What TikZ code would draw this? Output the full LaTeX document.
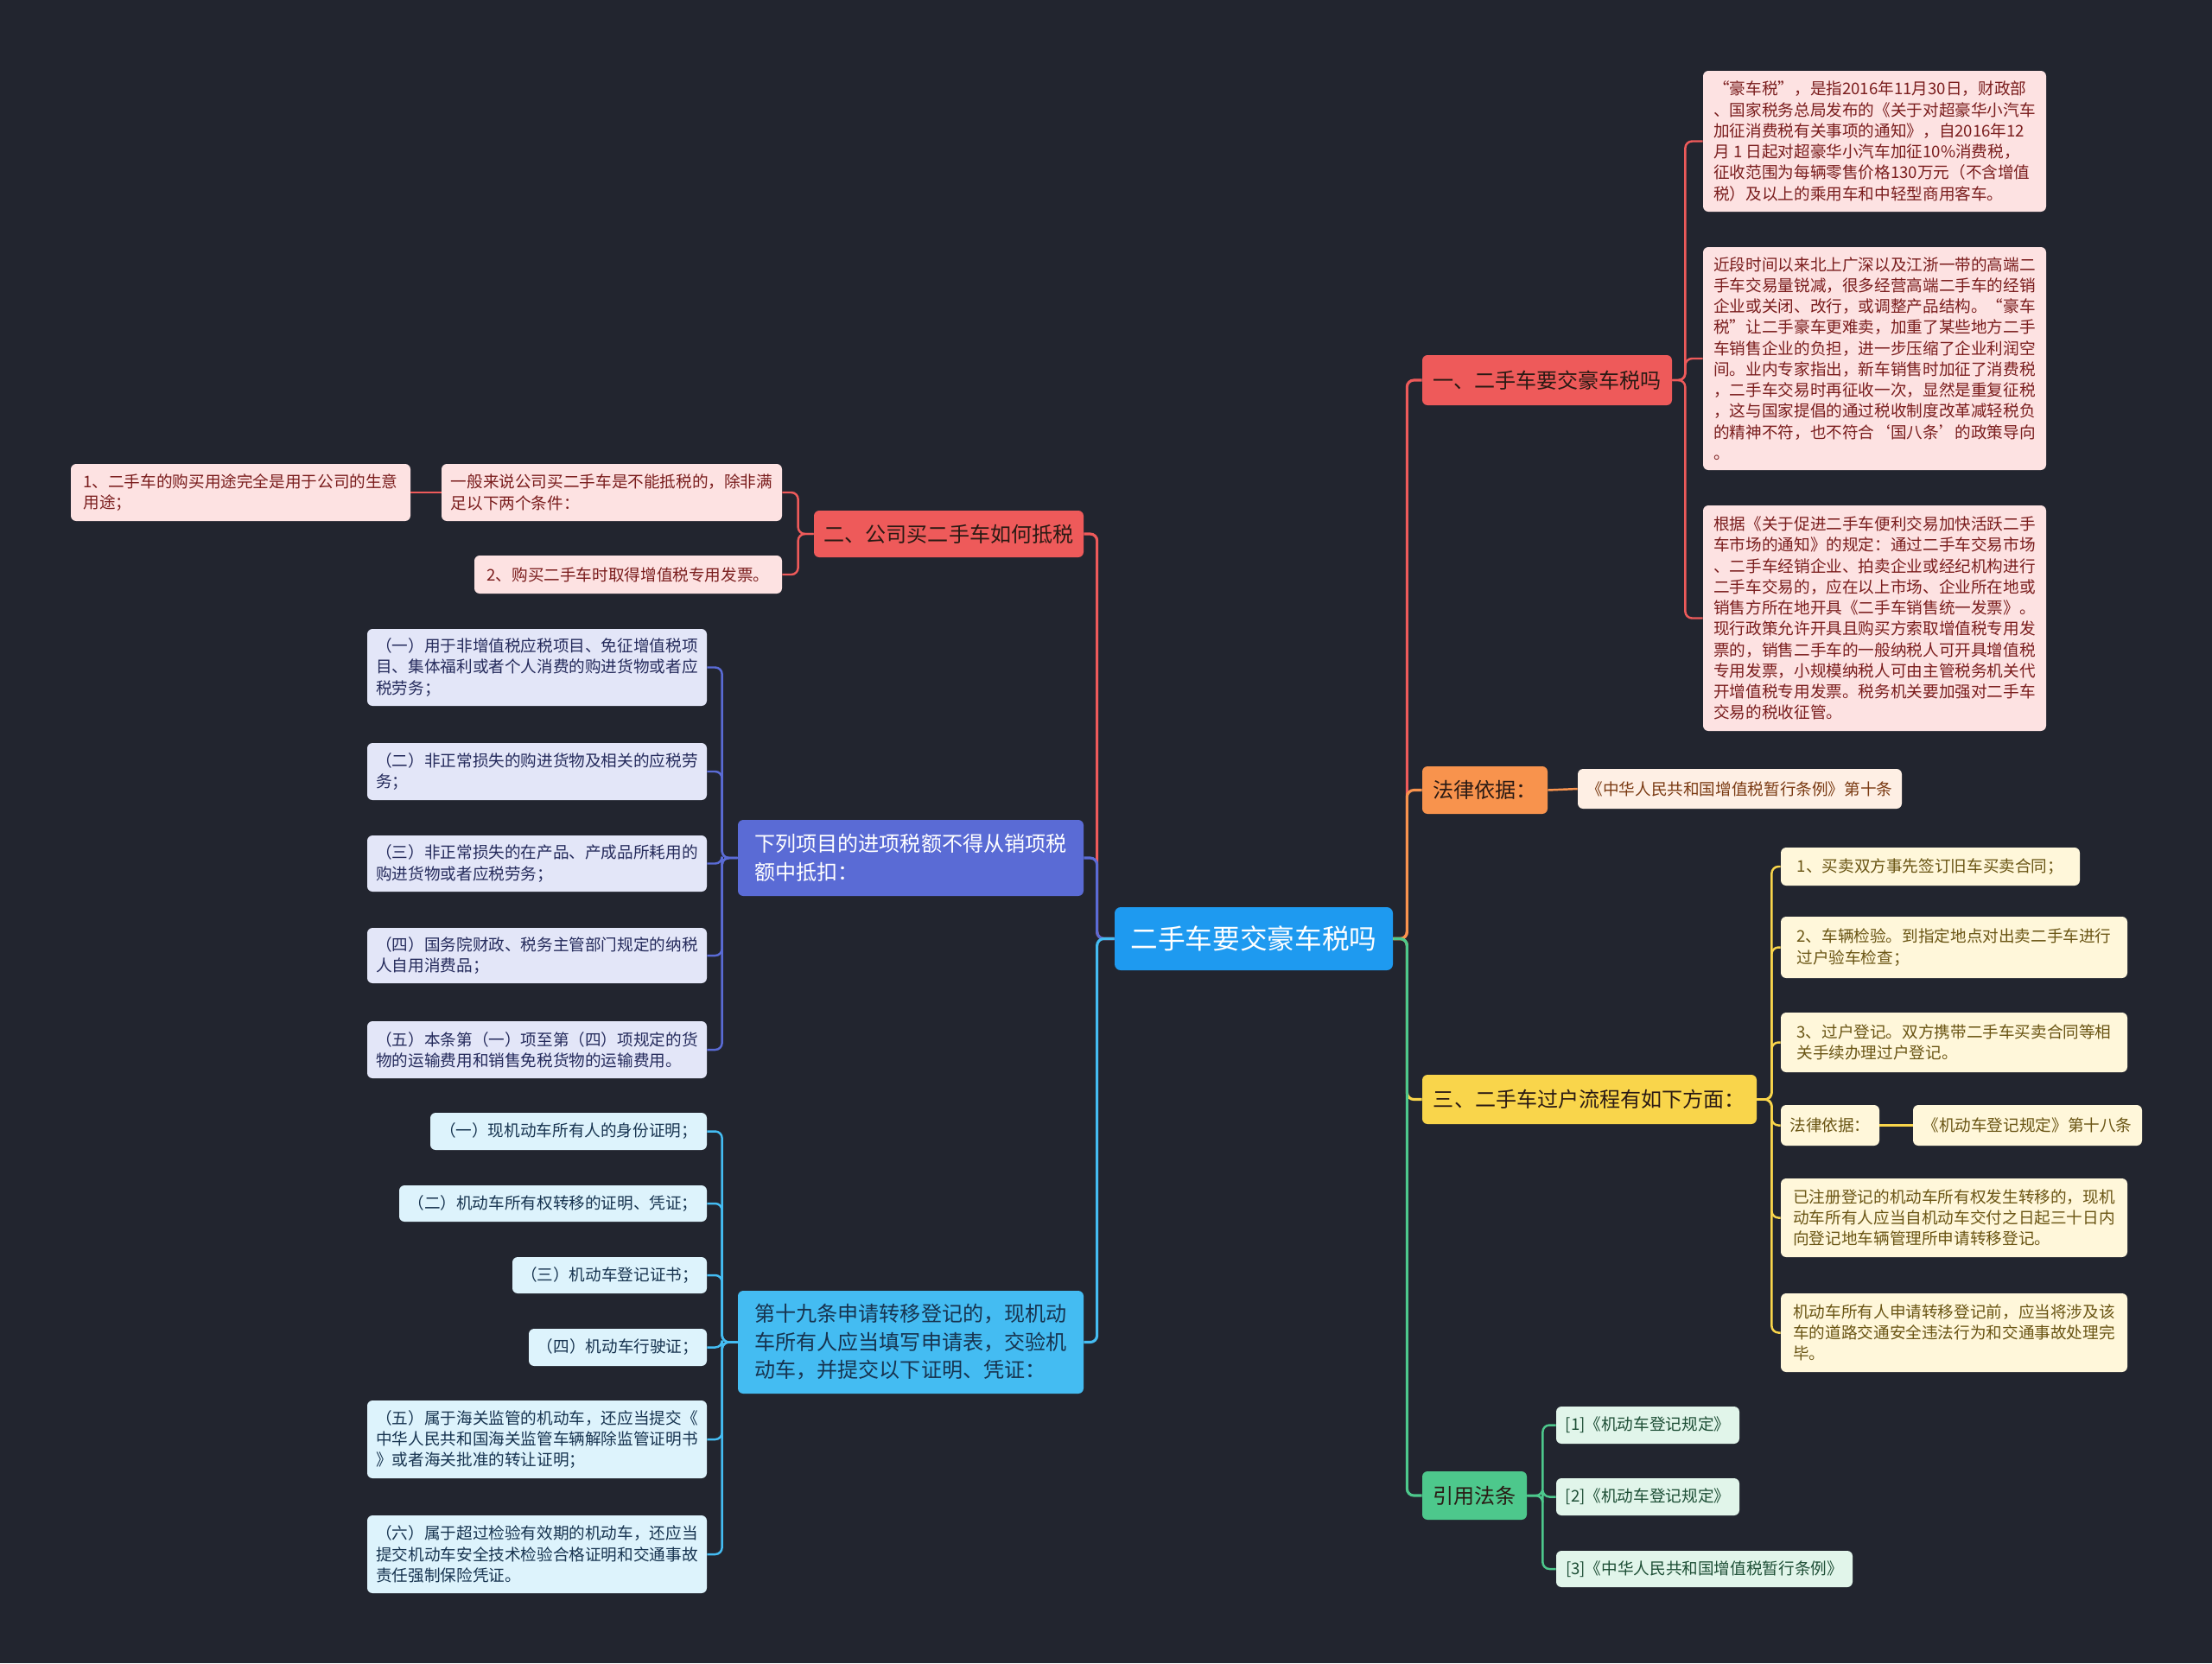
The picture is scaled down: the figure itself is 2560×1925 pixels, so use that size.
\documentclass[tikz,border=0pt]{standalone}
\usepackage{fontspec}
\newfontfamily\cjk{Noto Sans CJK SC}
\usepackage{xcolor}
\definecolor{bgnavy}{HTML}{22252F}
\definecolor{rootblue}{HTML}{1E9AF0}
\definecolor{lnred}{HTML}{EE5A5A}
\definecolor{leafred}{HTML}{FDE2E2}
\definecolor{inkred}{HTML}{7A1D1D}
\definecolor{lnorange}{HTML}{F8934D}
\definecolor{leaforange}{HTML}{FEEFE4}
\definecolor{inkorange}{HTML}{7A3A12}
\definecolor{lnyellow}{HTML}{F9D54B}
\definecolor{leafyellow}{HTML}{FFF7DA}
\definecolor{inkyellow}{HTML}{6A5514}
\definecolor{lngreen}{HTML}{4DC88C}
\definecolor{leafgreen}{HTML}{E1F5EA}
\definecolor{inkgreen}{HTML}{1D4E35}
\definecolor{lnpurple}{HTML}{5A6BD5}
\definecolor{leafpurple}{HTML}{E3E6F8}
\definecolor{inkpurple}{HTML}{252B5C}
\definecolor{lncyan}{HTML}{44BCF2}
\definecolor{leafcyan}{HTML}{DDF3FC}
\definecolor{inkcyan}{HTML}{173450}
\definecolor{inkdark}{HTML}{2A1A14}

\begin{document}
\begin{tikzpicture}[x=0.02cm, y=-0.02cm,
                    every node/.style={font=\cjk, align=left, inner sep=0pt},
                    sz/.style 2 args={minimum width=#1*0.02cm, minimum height=#2*0.02cm},
                    rootbox/.style={fill=rootblue, text=white, rounded corners=4pt,
                                    font=\cjk\fontsize{18}{22}\selectfont},
                    branchbox/.style={rounded corners=3.5pt, font=\cjk\fontsize{13.7}{18.5}\selectfont},
                    leafbox/.style={rounded corners=3.5pt, font=\cjk\fontsize{10.6}{13.8}\selectfont},
                    redleaf/.style={leafbox, fill=leafred, text=inkred},
                    orangeleaf/.style={leafbox, fill=leaforange, text=inkorange},
                    yellowleaf/.style={leafbox, fill=leafyellow, text=inkyellow},
                    greenleaf/.style={leafbox, fill=leafgreen, text=inkgreen},
                    purpleleaf/.style={leafbox, fill=leafpurple, text=inkpurple},
                    cyanleaf/.style={leafbox, fill=leafcyan, text=inkcyan},
                    trunk/.style={line width=1.8pt, rounded corners=4.5pt},
                    twig/.style={line width=1.4pt, rounded corners=4.5pt}]

  %% 背景与画幅
  \fill[bgnavy] (0,0) rectangle (2560,1925);
  \useasboundingbox (0,0) rectangle (2560,1925);

  %% 中心主题
  \node[rootbox, sz={322}{73}] (root) at (1451,1086.5) {二手车要交豪车税吗};

  %% 右侧：一、豪车税
  \node[branchbox, fill=lnred, text=inkdark, sz={289}{58}] (rb1) at (1790.5,440) {一、二手车要交豪车税吗};
  \node[redleaf, sz={397}{163}] (rl1) at (2169.5,163.5)
    {“豪车税”，是指2016年11月30日，财政部\\、国家税务总局发布的《关于对超豪华小汽车\\加征消费税有关事项的通知》，自2016年12\\月 1 日起对超豪华小汽车加征10\%消费税，\\征收范围为每辆零售价格130万元（不含增值\\税）及以上的乘用车和中轻型商用客车。};
  \node[redleaf, sz={397}{258}] (rl2) at (2169.5,415)
    {近段时间以来北上广深以及江浙一带的高端二\\手车交易量锐减，很多经营高端二手车的经销\\企业或关闭、改行，或调整产品结构。“豪车\\税”让二手豪车更难卖，加重了某些地方二手\\车销售企业的负担，进一步压缩了企业利润空\\间。业内专家指出，新车销售时加征了消费税\\，二手车交易时再征收一次，显然是重复征税\\，这与国家提倡的通过税收制度改革减轻税负\\的精神不符，也不符合‘国八条’的政策导向\\。};
  \node[redleaf, sz={397}{261}] (rl3) at (2169.5,715.5)
    {根据《关于促进二手车便利交易加快活跃二手\\车市场的通知》的规定：通过二手车交易市场\\、二手车经销企业、拍卖企业或经纪机构进行\\二手车交易的，应在以上市场、企业所在地或\\销售方所在地开具《二手车销售统一发票》。\\现行政策允许开具且购买方索取增值税专用发\\票的，销售二手车的一般纳税人可开具增值税\\专用发票，小规模纳税人可由主管税务机关代\\开增值税专用发票。税务机关要加强对二手车\\交易的税收征管。};

  %% 右侧：法律依据
  \node[branchbox, fill=lnorange, text=inkdark, sz={145}{55}] (ob) at (1718.5,914.5) {法律依据：};
  \node[orangeleaf, sz={375}{46}] (ol) at (2013.5,913) {《中华人民共和国增值税暂行条例》第十条};

  %% 右侧：三、过户流程
  \node[branchbox, fill=lnyellow, text=inkdark, sz={387}{57}] (yb) at (1839.5,1272.5) {三、二手车过户流程有如下方面：};
  \node[yellowleaf, sz={346}{44}] (yl1) at (2234,1003) {1、买卖双方事先签订旧车买卖合同；};
  \node[yellowleaf, sz={401}{71}] (yl2) at (2261.5,1096.5) {2、车辆检验。到指定地点对出卖二手车进行\\过户验车检查；};
  \node[yellowleaf, sz={401}{69}] (yl3) at (2261.5,1206.5) {3、过户登记。双方携带二手车买卖合同等相\\关手续办理过户登记。};
  \node[yellowleaf, sz={114}{47}] (yl4) at (2118,1302.5) {法律依据：};
  \node[yellowleaf, sz={265}{47}] (yl4b) at (2346.5,1302.5) {《机动车登记规定》第十八条};
  \node[yellowleaf, sz={401}{91}] (yl5) at (2261.5,1409.5) {已注册登记的机动车所有权发生转移的，现机\\动车所有人应当自机动车交付之日起三十日内\\向登记地车辆管理所申请转移登记。};
  \node[yellowleaf, sz={401}{91}] (yl6) at (2261.5,1542.5) {机动车所有人申请转移登记前，应当将涉及该\\车的道路交通安全违法行为和交通事故处理完\\毕。};

  %% 右侧：引用法条
  \node[branchbox, fill=lngreen, text=inkdark, sz={121}{56}] (gb) at (1706.5,1731) {引用法条};
  \node[greenleaf, sz={212}{43}] (gl1) at (1907,1649.5) {[1]《机动车登记规定》};
  \node[greenleaf, sz={212}{43}] (gl2) at (1907,1732.5) {[2]《机动车登记规定》};
  \node[greenleaf, sz={343}{42}] (gl3) at (1972.5,1816) {[3]《中华人民共和国增值税暂行条例》};

  %% 左侧：二、公司买二手车如何抵税
  \node[branchbox, fill=lnred, text=inkdark, sz={312}{54}] (lb1) at (1098,618) {二、公司买二手车如何抵税};
  \node[redleaf, sz={394}{66}] (ll1) at (708,570) {一般来说公司买二手车是不能抵税的，除非满\\足以下两个条件：};
  \node[redleaf, sz={393}{66}] (ll1a) at (278.5,570) {1、二手车的购买用途完全是用于公司的生意\\用途；};
  \node[redleaf, sz={356}{44}] (ll2) at (727,665) {2、购买二手车时取得增值税专用发票。};

  %% 左侧：不得抵扣的项目
  \node[branchbox, fill=lnpurple, text=white, sz={400}{88}] (pb) at (1054,993) {下列项目的进项税额不得从销项税\\额中抵扣：};
  \node[purpleleaf, sz={393}{89}] (pl1) at (621.5,772.5) {（一）用于非增值税应税项目、免征增值税项\\目、集体福利或者个人消费的购进货物或者应\\税劳务；};
  \node[purpleleaf, sz={393}{66}] (pl2) at (621.5,893) {（二）非正常损失的购进货物及相关的应税劳\\务；};
  \node[purpleleaf, sz={393}{65}] (pl3) at (621.5,999.5) {（三）非正常损失的在产品、产成品所耗用的\\购进货物或者应税劳务；};
  \node[purpleleaf, sz={393}{64}] (pl4) at (621.5,1106) {（四）国务院财政、税务主管部门规定的纳税\\人自用消费品；};
  \node[purpleleaf, sz={393}{66}] (pl5) at (621.5,1215) {（五）本条第（一）项至第（四）项规定的货\\物的运输费用和销售免税货物的运输费用。};

  %% 左侧：第十九条
  \node[branchbox, fill=lncyan, text=inkcyan, sz={400}{119}] (cb) at (1054,1553.5) {第十九条申请转移登记的，现机动\\车所有人应当填写申请表，交验机\\动车，并提交以下证明、凭证：};
  \node[cyanleaf, sz={320}{43}] (cl1) at (658,1309.5) {（一）现机动车所有人的身份证明；};
  \node[cyanleaf, sz={356}{42}] (cl2) at (640,1393) {（二）机动车所有权转移的证明、凭证；};
  \node[cyanleaf, sz={225}{42}] (cl3) at (705.5,1476) {（三）机动车登记证书；};
  \node[cyanleaf, sz={206}{43}] (cl4) at (715,1559.5) {（四）机动车行驶证；};
  \node[cyanleaf, sz={393}{90}] (cl5) at (621.5,1666) {（五）属于海关监管的机动车，还应当提交《\\中华人民共和国海关监管车辆解除监管证明书\\》或者海关批准的转让证明；};
  \node[cyanleaf, sz={393}{90}] (cl6) at (621.5,1799) {（六）属于超过检验有效期的机动车，还应当\\提交机动车安全技术检验合格证明和交通事故\\责任强制保险凭证。};

  %% 主干连线
  \foreach \b/\c in {rb1/lnred, ob/lnorange, yb/lnyellow, gb/lngreen}
    \draw[trunk, \c] (root.east) -- ++(16,0) |- (\b.west);
  \foreach \b/\c in {lb1/lnred, pb/lnpurple, cb/lncyan}
    \draw[trunk, \c] (root.west) -- ++(-20,0) |- (\b.east);

  %% 分支连线
  \foreach \n in {rl1, rl2, rl3}
    \draw[twig, lnred] (rb1.east) -- ++(15,0) |- (\n.west);
  \draw[twig, lnorange] (ob.east) -- (ol.west);
  \foreach \n in {yl1, yl2, yl3, yl4, yl5, yl6}
    \draw[twig, lnyellow] (yb.east) -- ++(17,0) |- (\n.west);
  \draw[twig, lnyellow] (yl4.east) -- (yl4b.west);
  \foreach \n in {gl1, gl2, gl3}
    \draw[twig, lngreen] (gb.east) -- ++(18,0) |- (\n.west);
  \foreach \n in {ll1, ll2}
    \draw[twig, lnred] (lb1.west) -- ++(-18,0) |- (\n.east);
  \draw[twig, lnred] (ll1.west) -- (ll1a.east);
  \foreach \n in {pl1, pl2, pl3, pl4, pl5}
    \draw[twig, lnpurple] (pb.west) -- ++(-18,0) |- (\n.east);
  \foreach \n in {cl1, cl2, cl3, cl4, cl5, cl6}
    \draw[twig, lncyan] (cb.west) -- ++(-18,0) |- (\n.east);

\end{tikzpicture}
\end{document}
